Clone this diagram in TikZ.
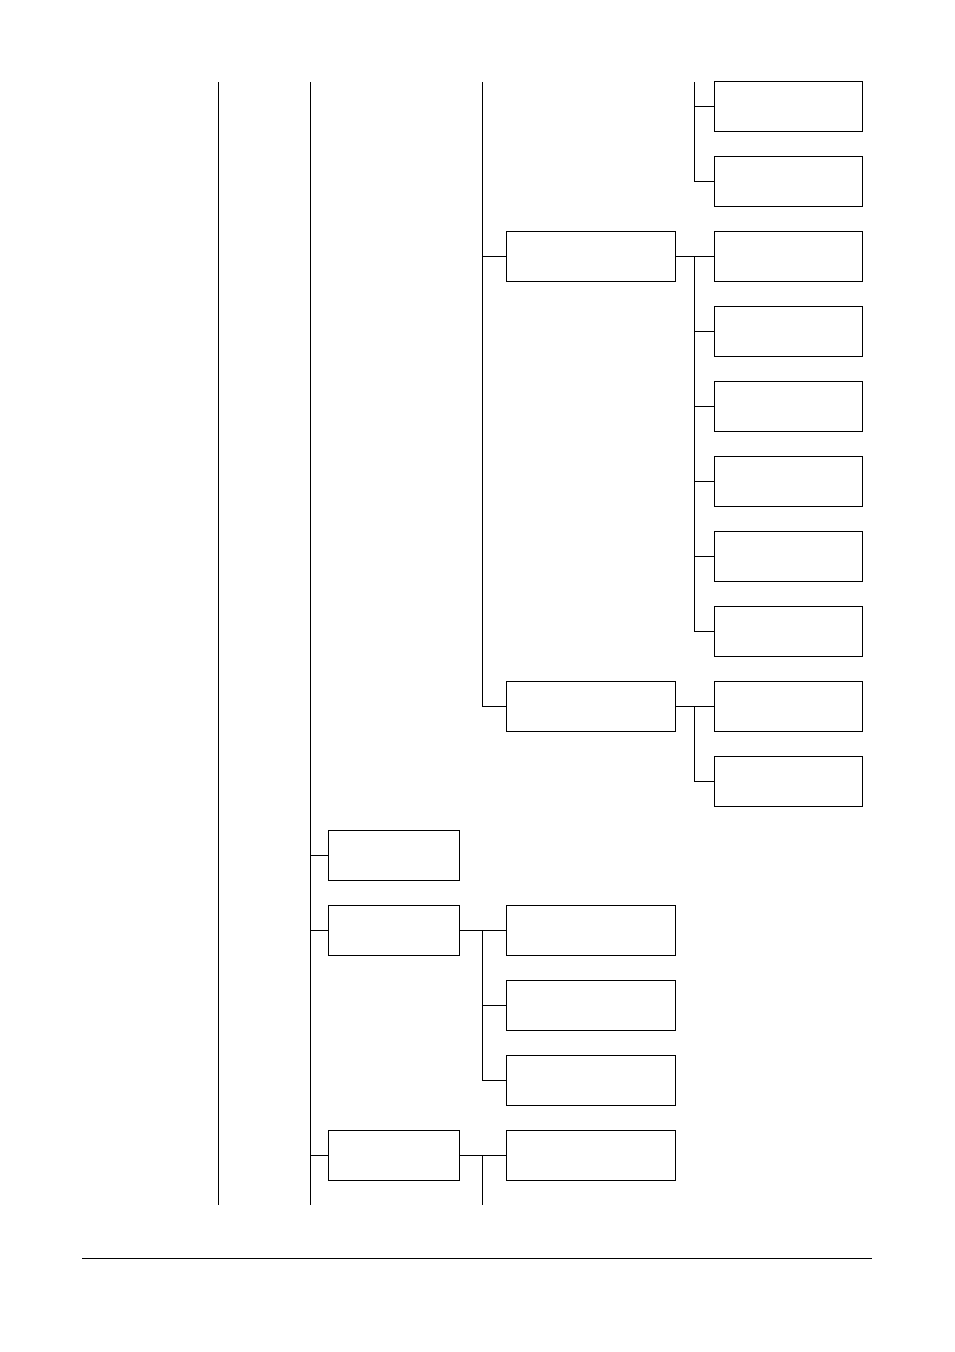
\documentclass[tikz,border=0pt]{standalone}
\begin{document}
\begin{tikzpicture}[x=1pt,y=-1pt,line width=0.8pt,
  bx/.style={draw,minimum height=50pt,anchor=north west,inner sep=0pt},
  bw/.style={bx,minimum width=148pt},
  bm/.style={bx,minimum width=169pt},
  bl/.style={bx,minimum width=131pt}]
\useasboundingbox (0,0) rectangle (954,1352);
% right column
\foreach \i/\y in {1/81,2/156,3/231,4/306,5/381,6/456,7/531,8/606,9/681,10/756}
  \node[bw] (r\i) at (714,\y) {};
% middle
\node[bm] (m1) at (506,231) {};
\node[bm] (m2) at (506,681) {};
\node[bm] (m3) at (506,905) {};
\node[bm] (m4) at (506,980) {};
\node[bm] (m5) at (506,1055) {};
\node[bm] (m6) at (506,1130) {};
% left
\node[bl] (l1) at (328,830) {};
\node[bl] (l2) at (328,905) {};
\node[bl] (l3) at (328,1130) {};
% trunks
\coordinate (a1) at (218,82); \coordinate (a2) at (218,1205);
\coordinate (b1) at (310,82); \coordinate (b2) at (310,1205);
\coordinate (c1) at (482,82); \coordinate (c2) at (482,706);
\coordinate (c3) at (482,930); \coordinate (c4) at (482,1080);
\coordinate (c5) at (482,1155); \coordinate (c6) at (482,1205);
\coordinate (d1) at (694,82); \coordinate (d2) at (694,181);
\coordinate (d3) at (694,256); \coordinate (d4) at (694,631);
\coordinate (d5) at (694,706); \coordinate (d6) at (694,781);
\draw (a1)--(a2); \draw (b1)--(b2); \draw (c1)--(c2); \draw (c3)--(c4); \draw (c5)--(c6);
\draw (d1)--(d2); \draw (d3)--(d4); \draw (d5)--(d6);
% stubs
\draw (d1|-r1.west)--(r1.west); \draw (d1|-r2.west)--(r2.west);
\foreach \i in {3,...,8} \draw (d3|-r\i.west)--(r\i.west);
\draw (d5|-r10.west)--(r10.west);
\draw (m1.east)--(r3.west); \draw (m2.east)--(r9.west);
\draw (c1|-m1.west)--(m1.west); \draw (c1|-m2.west)--(m2.west);
\draw (l2.east)--(m3.west); \draw (c3|-m4.west)--(m4.west); \draw (c3|-m5.west)--(m5.west);
\draw (l3.east)--(m6.west);
\foreach \i in {1,2,3} \draw (b1|-l\i.west)--(l\i.west);
% footer line
\coordinate (f1) at (82,1258); \coordinate (f2) at (872,1258);
\draw[line width=0.6pt] (f1)--(f2);
\end{tikzpicture}
\end{document}
